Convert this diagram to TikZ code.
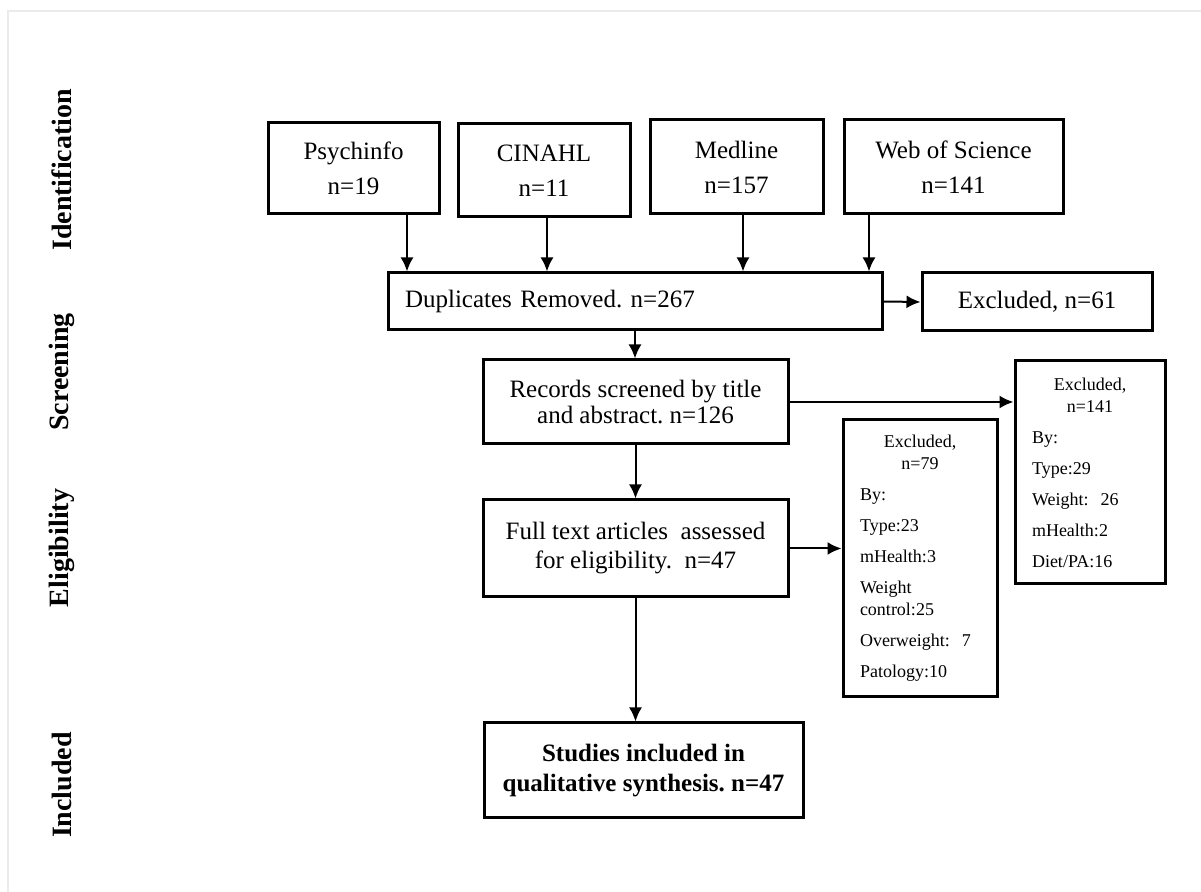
\documentclass[tikz,border=0pt]{standalone}
\usepackage{fontspec}
\setmainfont{Liberation Serif}
\usetikzlibrary{arrows.meta}
\frenchspacing

\begin{document}
\begin{tikzpicture}[x=0.5pt,y=-0.5pt,
  box/.style={draw,line width=1.5pt,inner sep=0pt,align=center,font=\fontsize{12.5}{17.5}\selectfont},
  exbox/.style={draw,line width=1.5pt,inner xsep=8.5pt,inner ysep=0pt,font=\fontsize{9}{11}\selectfont},
  arr/.style={-{Latex[length=7pt,width=6.5pt]},line width=1pt},
  phase/.style={rotate=90,font=\fontsize{14}{16}\selectfont\bfseries}]
\useasboundingbox (0,0) rectangle (1201,892);
\draw[black!8,line width=0.6pt] (8,892)--(8,11)--(1201,11);

% phases
\node[phase] (lid) at (62,170) {Identification};
\node[phase] (lsc) at (62,372) {Screening};
\node[phase] (lel) at (62,548) {Eligibility};
\node[phase] (lin) at (62,785) {Included};

% databases
\node[box,minimum width=85.5pt,minimum height=45.5pt] (psy) at (353.5,168.5) {Psychinfo\\n=19};
\node[box,minimum width=86pt,minimum height=46.5pt] (cin) at (544,170.5) {CINAHL\\n=11};
\node[box,minimum width=86.5pt,minimum height=47pt] (med) at (736.5,167) {Medline\\n=157};
\node[box,minimum width=109.5pt,minimum height=47pt] (wos) at (953.5,167) {Web of Science\\n=141};

\node[box,align=left,text width=230pt,inner xsep=8.5pt,minimum height=28.5pt] (dup) at (635,301.5) {Duplicates Removed. n=267};
\node[box,minimum width=115pt,minimum height=29pt] (ex61) at (1037,302) {Excluded, n=61};

\node[box,minimum width=152.5pt,minimum height=42pt,font=\fontsize{12.5}{13}\selectfont] (rec) at (635.5,402) {Records screened by title\\and abstract. n=126};
\node[exbox,text width=58pt,minimum height=111.5pt] (ex141) at (1090,472.5) {\parindent0pt\centering Excluded,\\n=141\par\vspace{4.5pt}\raggedright
  By:\\[4.5pt]Type:29\\[4.5pt]Weight:~ 26\\[4.5pt]mHealth:2\\[4.5pt]Diet/PA:16};

\node[box,minimum width=152.5pt,minimum height=48.5pt,font=\fontsize{12.5}{14.5}\selectfont] (full) at (635.5,548.5) {Full text articles~ assessed\\for eligibility.~ n=47};
\node[exbox,text width=60pt,minimum height=138.5pt] (ex79) at (920,558.5) {\parindent0pt\centering Excluded,\\n=79\par\vspace{4.5pt}\raggedright
  By:\\[4.5pt]Type:23\\[4.5pt]mHealth:3\\[4.5pt]Weight\\control:25\\[4.5pt]Overweight:~ 7\\[4.5pt]Patology:10};

\node[box,minimum width=159.5pt,minimum height=47.5pt,font=\fontsize{12.5}{15}\selectfont\bfseries] (inc) at (643.5,770.5) {Studies included in\\qualitative synthesis. n=47};

% arrows
\coordinate (ca) at (407,0);
\coordinate (cb) at (547,0);
\coordinate (cc) at (743,0);
\coordinate (cd) at (869,0);
\draw[arr] (psy.south -| ca) -- (dup.north -| ca);
\draw[arr] (cin.south -| cb) -- (dup.north -| cb);
\draw[arr] (med.south -| cc) -- (dup.north -| cc);
\draw[arr] (wos.south -| cd) -- (dup.north -| cd);
\draw[arr] (dup.east) -- (ex61.west);
\draw[arr] (dup.south) -- (dup.south |- rec.north);
\draw[arr] (rec.east) -- (rec.east -| ex141.west);
\draw[arr] (rec.south) -- (full.north);
\draw[arr] (full.east) -- (full.east -| ex79.west);
\draw[arr] (full.south) -- (full.south |- inc.north);
\end{tikzpicture}
\end{document}
